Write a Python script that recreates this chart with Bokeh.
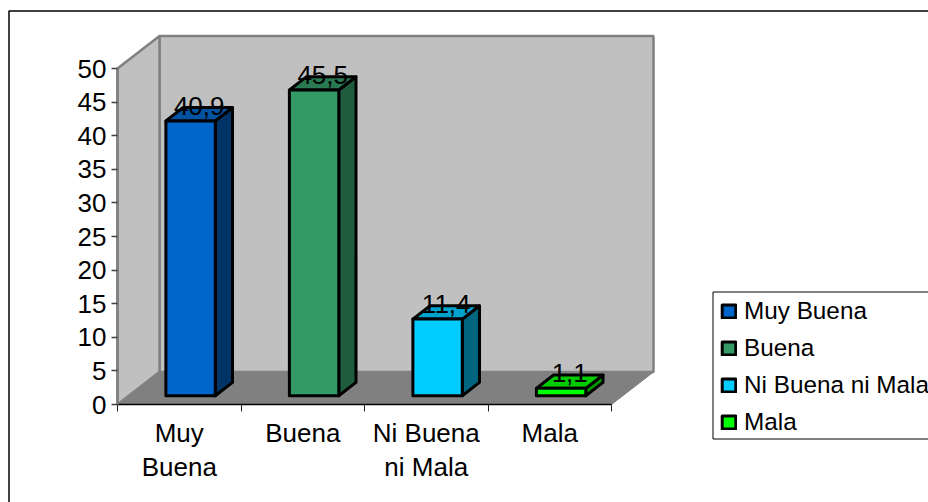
from bokeh.plotting import figure
from bokeh.embed import file_html
from bokeh.resources import INLINE
from bokeh.models import (Range1d, LinearAxis, FixedTicker, Legend, LegendItem,
                          BoxAnnotation, ColumnDataSource)
from bokeh.core.properties import value

categories = ["Muy Buena", "Buena", "Ni Buena ni Mala", "Mala"]
axis_labels = ["Muy\nBuena", "Buena", "Ni Buena\nni Mala", "Mala"]
values = [40.9, 45.5, 11.4, 1.1]
value_labels = ["40,9", "45,5", "11,4", "1,1"]
y_ticks = [0, 5, 10, 15, 20, 25, 30, 35, 40, 45, 50]
front_colors = ["#0066CC", "#339966", "#00CCFF", "#00FF00"]
top_colors = ["#0052A3", "#297A52", "#00A3CC", "#00CC00"]
side_colors = ["#003366", "#1F5C3D", "#006680", "#009900"]

W, H = 928, 502
FONT = "Liberation Sans"
PX_X, PX_Y = 123.5, 6.72      # pixels per category, per value unit
X0, Y0 = 117, 404             # canvas position of category edge 0.5, value 0

DX, DY = 42 / PX_X, 32.5 / PX_Y   # full depth of the floor, in data units
D0, D1 = 0.27, 0.68               # bar depth span, as a fraction of the floor
BAR_W = 0.40

p = figure(width=W, height=H, output_backend="svg", toolbar_location=None,
           x_axis_type=None, y_axis_type=None,
           x_range=Range1d(0.5 - X0 / PX_X, 0.5 + (W - X0) / PX_X),
           y_range=Range1d(-(H - Y0) / PX_Y, Y0 / PX_Y),
           min_border=0, outline_line_color=None, background_fill_color="white",
           border_fill_color="white")
p.grid.visible = False

xl, xr = 0.5, 0.5 + len(categories)
top = y_ticks[-1]
wall_line = "#808080"
p.patch([xl + DX, xr + DX, xr + DX, xl + DX], [DY, DY, top + DY, top + DY],
        fill_color="#C0C0C0", line_color=wall_line, line_width=2.5)
p.patch([xl, xl + DX, xl + DX, xl], [0, DY, top + DY, top],
        fill_color="#C0C0C0", line_color=wall_line, line_width=2.5)
p.patch([xl, xr, xr + DX, xl + DX], [0, 0, DY, DY], fill_color="#808080", line_color="#808080")

items = []
for i, (v, fc, tc, sc, name) in enumerate(zip(values, front_colors, top_colors, side_colors, categories)):
    c = i + 1 + D0 * DX
    base = D0 * DY
    l, r = c - BAR_W / 2, c + BAR_W / 2
    ddx, ddy = (D1 - D0) * DX, (D1 - D0) * DY
    p.patch([r, r + ddx, r + ddx, r], [base, base + ddy, base + v + ddy, base + v],
            fill_color=sc, line_color="black", line_width=3, line_join="round")
    p.patch([l, r, r + ddx, l + ddx], [base + v, base + v, base + v + ddy, base + v + ddy],
            fill_color=tc, line_color="black", line_width=3, line_join="round")
    q = p.quad(left=[l], right=[r], bottom=[base], top=[base + v],
               fill_color=fc, line_color="black", line_width=3, line_join="round")
    items.append(LegendItem(label=name, renderers=[q]))

src = ColumnDataSource(dict(
    x=[i + 1 + D0 * DX + (D1 - D0) * DX / 2 for i in range(len(values))],
    y=[D1 * DY + v for v in values],
    t=value_labels))
p.text("x", "y", text="t", source=src, text_font=value(FONT), text_font_size="26px",
       text_align="center", text_baseline="middle", text_color="black", y_offset=-2)

yax = LinearAxis(fixed_location=xl, ticker=FixedTicker(ticks=y_ticks), bounds=(0, top),
                 axis_line_color="#808080", axis_line_width=2.5,
                 major_tick_line_color="#404040", major_tick_line_width=1.5,
                 major_tick_in=0, major_tick_out=6, minor_tick_line_color=None,
                 major_label_text_font=FONT, major_label_text_font_size="26px",
                 major_label_text_color="black", major_label_standoff=5)
p.add_layout(yax, "left")

xticks = LinearAxis(fixed_location=0, ticker=FixedTicker(ticks=[0.5, 1.5, 2.5, 3.5, 4.5]), bounds=(xl, xr),
                    axis_line_color="black", axis_line_width=1.5,
                    major_tick_line_color="#202020", major_tick_line_width=1,
                    major_tick_in=0, major_tick_out=7, minor_tick_line_color=None,
                    major_label_overrides={0.5: "", 1.5: "", 2.5: "", 3.5: "", 4.5: ""})
p.add_layout(xticks, "below")

xax = LinearAxis(fixed_location=0, ticker=FixedTicker(ticks=[1, 2, 3, 4]),
                 axis_line_color=None, major_tick_line_color=None, minor_tick_line_color=None,
                 major_label_overrides={i + 1: s for i, s in enumerate(axis_labels)},
                 major_label_text_font=FONT, major_label_text_font_size="26px",
                 major_label_text_color="black", major_label_text_line_height=1.15,
                 major_label_standoff=7)
p.add_layout(xax, "below")

# chart area border (its right and bottom edges lie past the page)
p.add_layout(BoxAnnotation(left=8.5, right=W + 20, top=10.5, bottom=H + 20,
                           left_units="canvas", right_units="canvas",
                           top_units="canvas", bottom_units="canvas",
                           fill_color=None, line_color="black", line_alpha=1, line_width=1.5))

# legend frame, drawn separately because its inset differs per side
p.add_layout(BoxAnnotation(left=712.5, right=W + 20, top=291.5, bottom=438.5,
                           left_units="canvas", right_units="canvas",
                           top_units="canvas", bottom_units="canvas",
                           fill_color="white", fill_alpha=1,
                           line_color="black", line_alpha=1, line_width=1))

legend = Legend(items=items, location=(720, 62), orientation="vertical",
                margin=0, padding=0, spacing=0, label_standoff=7,
                glyph_width=17, glyph_height=16, label_height=37,
                label_text_font=FONT, label_text_font_size="24.3px", label_text_color="black",
                border_line_color=None, background_fill_color=None)
p.add_layout(legend, "center")

open("out.html", "w").write(file_html(p, INLINE))
